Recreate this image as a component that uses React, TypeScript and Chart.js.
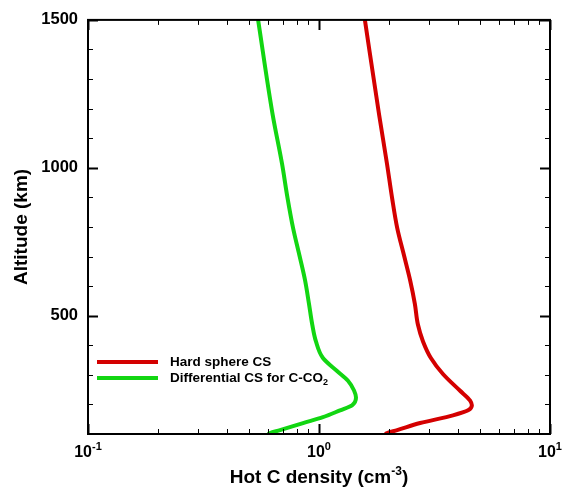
import React, { useEffect, useRef } from 'react';
import { Chart, registerables } from 'chart.js';
Chart.register(...registerables);

// Hard sphere CS (red)
const redAltitude = [100, 103, 113, 137, 163, 180, 197, 213, 247, 303, 357, 413, 470, 540, 620, 700, 797, 900, 1013, 1180, 1500];
const redDensity = [1.93, 1.97, 2.18, 2.74, 3.8, 4.42, 4.59, 4.51, 4.07, 3.44, 3.05, 2.82, 2.68, 2.6, 2.48, 2.34, 2.18, 2.07, 1.97, 1.82, 1.58];

// Differential CS for C-CO2 (green)
const greenAltitude = [100, 103, 113, 137, 157, 180, 197, 223, 247, 280, 313, 357, 413, 470, 540, 620, 700, 797, 900, 1013, 1180, 1500];
const greenDensity = [0.6, 0.613, 0.678, 0.853, 1.04, 1.233, 1.39, 1.446, 1.418, 1.335, 1.197, 1.04, 0.97, 0.935, 0.905, 0.87, 0.825, 0.772, 0.73, 0.692, 0.63, 0.545];

const seriesLabels = ['Hard sphere CS', 'Differential CS for C-CO'];
const seriesSubscripts = ['', '2'];
const seriesColors = ['#d40000', '#12d612'];

const xMin = 0.1;
const xMax = 10;
const xTickValues = [0.1, 1, 10];
const xTickExponents = ['-1', '0', '1'];
const yMin = 100;
const yMax = 1500;
const yTickValues = [500, 1000, 1500];
const yMinorStep = 100;

const xTitle = 'Hot C density (cm';
const xTitleSup = '-3';
const yTitle = 'Altitude (km)';

const FONT = '"Liberation Sans", Arial, Helvetica, sans-serif';

const decorPlugin = {
  id: 'decor',
  afterDraw(chart: any) {
    const ctx = chart.ctx as CanvasRenderingContext2D;
    const { left, right, top, bottom } = chart.chartArea;
    const xs = chart.scales.x;
    const ys = chart.scales.y;
    ctx.save();
    ctx.strokeStyle = '#000';
    ctx.fillStyle = '#000';

    // ticks on x (bottom and top, inward)
    for (let k = -1; k <= 1; k++) {
      for (let m = 1; m <= 9; m++) {
        const v = m * Math.pow(10, k);
        if (v < xMin - 1e-9 || v > xMax + 1e-9) continue;
        const px = Math.round(xs.getPixelForValue(v)) + 0.5;
        const major = m === 1;
        const len = major ? 10 : 5;
        ctx.lineWidth = major ? 2 : 1;
        ctx.beginPath();
        ctx.moveTo(px, bottom);
        ctx.lineTo(px, bottom - len);
        ctx.moveTo(px, top);
        ctx.lineTo(px, top + len);
        ctx.stroke();
      }
    }
    // ticks on y (left and right, inward)
    for (let v = yMin; v <= yMax; v += yMinorStep) {
      const py = Math.round(ys.getPixelForValue(v)) + 0.5;
      const major = yTickValues.includes(v);
      const len = major ? 10 : 5;
      ctx.lineWidth = major ? 2 : 1;
      ctx.beginPath();
      ctx.moveTo(left, py);
      ctx.lineTo(left + len, py);
      ctx.moveTo(right, py);
      ctx.lineTo(right - len, py);
      ctx.stroke();
    }

    // frame
    ctx.lineWidth = 2;
    ctx.strokeRect(left, top, right - left, bottom - top);

    // x tick labels with superscripts
    ctx.textBaseline = 'alphabetic';
    ctx.textAlign = 'left';
    xTickValues.forEach((v, i) => {
      const px = xs.getPixelForValue(v);
      ctx.font = `bold 16px ${FONT}`;
      const wBase = ctx.measureText('10').width;
      ctx.font = `bold 11px ${FONT}`;
      const wExp = ctx.measureText(xTickExponents[i]).width;
      const start = px - (wBase + wExp) / 2;
      ctx.font = `bold 16px ${FONT}`;
      ctx.fillText('10', start, bottom + 23);
      ctx.font = `bold 11px ${FONT}`;
      ctx.fillText(xTickExponents[i], start + wBase, bottom + 16);
    });

    // x title
    ctx.font = `bold 19px ${FONT}`;
    const w1 = ctx.measureText(xTitle).width;
    const w3 = ctx.measureText(')').width;
    ctx.font = `bold 12px ${FONT}`;
    const w2 = ctx.measureText(xTitleSup).width;
    const cx = (left + right) / 2;
    const sx = cx - (w1 + w2 + w3) / 2;
    const by = bottom + 49;
    ctx.font = `bold 19px ${FONT}`;
    ctx.fillText(xTitle, sx, by);
    ctx.font = `bold 12px ${FONT}`;
    ctx.fillText(xTitleSup, sx + w1, by - 8);
    ctx.font = `bold 19px ${FONT}`;
    ctx.fillText(')', sx + w1 + w2, by);

    // y title
    ctx.save();
    ctx.translate(22, (top + bottom) / 2);
    ctx.rotate(-Math.PI / 2);
    ctx.textAlign = 'center';
    ctx.textBaseline = 'middle';
    ctx.font = `bold 19px ${FONT}`;
    ctx.fillText(yTitle, 0, 0);
    ctx.restore();

    // legend
    const legX0 = left + 9;
    const legX1 = left + 70;
    const legTextX = left + 82;
    const legY0 = ys.getPixelForValue(yMin) - 72;
    seriesLabels.forEach((label, i) => {
      const ly = legY0 + i * 16;
      ctx.strokeStyle = seriesColors[i];
      ctx.lineWidth = 4;
      ctx.beginPath();
      ctx.moveTo(legX0, ly);
      ctx.lineTo(legX1, ly);
      ctx.stroke();
      ctx.fillStyle = '#000';
      ctx.textAlign = 'left';
      ctx.textBaseline = 'middle';
      ctx.font = `bold 13.5px ${FONT}`;
      ctx.fillText(label, legTextX, ly);
      if (seriesSubscripts[i]) {
        const w = ctx.measureText(label).width;
        ctx.font = `bold 9px ${FONT}`;
        ctx.fillText(seriesSubscripts[i], legTextX + w, ly + 5);
      }
    });
    ctx.restore();
  },
};

export default function App() {
  const ref = useRef<HTMLCanvasElement>(null);
  useEffect(() => {
    if (!ref.current) return;
    const chart = new Chart(ref.current, {
      type: 'line',
      data: {
        datasets: [
          {
            label: seriesLabels[0],
            data: redAltitude.map((a, i) => ({ x: redDensity[i], y: a })),
            borderColor: seriesColors[0],
            backgroundColor: seriesColors[0],
            borderWidth: 4,
            pointRadius: 0,
            cubicInterpolationMode: 'monotone',
          },
          {
            label: seriesLabels[1] + seriesSubscripts[1],
            data: greenAltitude.map((a, i) => ({ x: greenDensity[i], y: a })),
            borderColor: seriesColors[1],
            backgroundColor: seriesColors[1],
            borderWidth: 4,
            pointRadius: 0,
            cubicInterpolationMode: 'monotone',
          },
        ],
      },
      options: {
        indexAxis: 'y',
        responsive: false,
        animation: false,
        devicePixelRatio: 1,
        layout: { padding: { left: 0, top: 14, right: 13, bottom: 0 } },
        plugins: { legend: { display: false }, tooltip: { enabled: false } },
        scales: {
          x: {
            type: 'logarithmic',
            min: xMin,
            max: xMax,
            grid: { display: false, drawTicks: false },
            border: { display: false },
            ticks: { display: false },
            afterFit: (s: any) => { s.height = 56; },
          },
          y: {
            type: 'linear',
            min: yMin,
            max: yMax,
            grid: { display: false, drawTicks: false },
            border: { display: false },
            ticks: {
              color: '#000',
              padding: 10,
              font: { family: FONT, size: 16.5, weight: 'bold' },
              callback: (v: any) => String(v),
            },
            afterBuildTicks: (s: any) => { s.ticks = yTickValues.map((v) => ({ value: v })); },
            afterFit: (s: any) => { s.width = 88; },
          },
        },
      },
      plugins: [decorPlugin],
    });
    return () => chart.destroy();
  }, []);
  return (
    <div style={{ position: 'absolute', left: 0, top: 0, width: 563, height: 490, background: '#fff' }}>
      <canvas ref={ref} width={563} height={490} />
    </div>
  );
}
